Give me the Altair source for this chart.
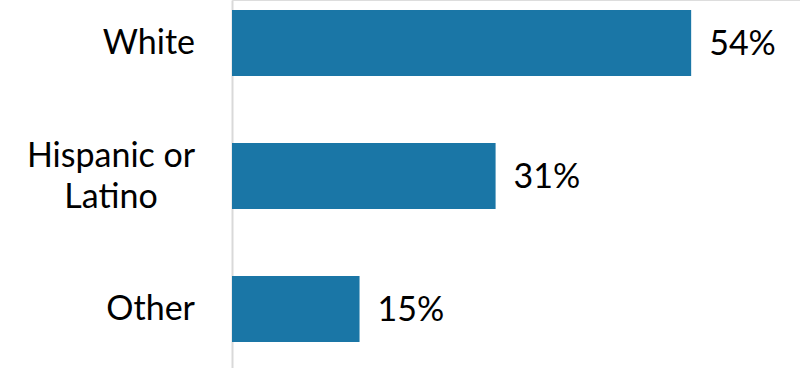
import altair as alt
import pandas as pd

categories = ["White", "Hispanic or Latino", "Other"]
values = [54, 31, 15]
value_labels = ["54%", "31%", "15%"]
axis_labels = ["White", "Hispanic or\nLatino", "Other"]
multi_line = [False, True, False]

df = pd.DataFrame({
    "category": categories,
    "value": values,
    "vlabel": value_labels,
    "alabel": axis_labels,
    "multi": multi_line,
})

FONT = "Lato"
FS = 34

y_enc = alt.Y(
    "category:N",
    sort=categories,
    scale=alt.Scale(paddingInner=0.5038, paddingOuter=0.1353, align=0.278),
    axis=alt.Axis(title=None, labels=False, ticks=False, domain=True,
                  domainColor="#d9d9d9", domainWidth=2, grid=False),
)
x_enc = alt.X("value:Q", scale=alt.Scale(domain=[0, 66.8]), axis=None)

base = alt.Chart(df)

bars = base.mark_bar(color="#1a76a6").encode(x=x_enc, y=y_enc)

vals = base.mark_text(align="left", baseline="middle", dx=18, dy=2, font=FONT,
                      fontSize=FS, color="#000000").encode(
    x=x_enc, y=y_enc, text="vlabel:N")

lab_right = base.transform_filter("!datum.multi").mark_text(
    align="right", baseline="middle", font=FONT, fontSize=FS, dy=1,
    color="#000000").encode(x=alt.value(-37), y=y_enc, text="alabel:N")

lab_center = base.transform_filter("datum.multi").mark_text(
    align="center", baseline="middle", font=FONT, fontSize=FS, dy=-19,
    lineBreak="\n", lineHeight=41, color="#000000").encode(
    x=alt.value(-121), y=y_enc, text="alabel:N")

chart = alt.layer(bars, vals, lab_right, lab_center).properties(
    width=568, height=368,
    autosize=alt.AutoSizeParams(type="none"),
    padding={"left": 232, "top": 0, "right": 0, "bottom": 0},
).configure_view(stroke=None).configure(background="white")

chart.save("out.html", embed_options={"renderer": "svg", "actions": False})
